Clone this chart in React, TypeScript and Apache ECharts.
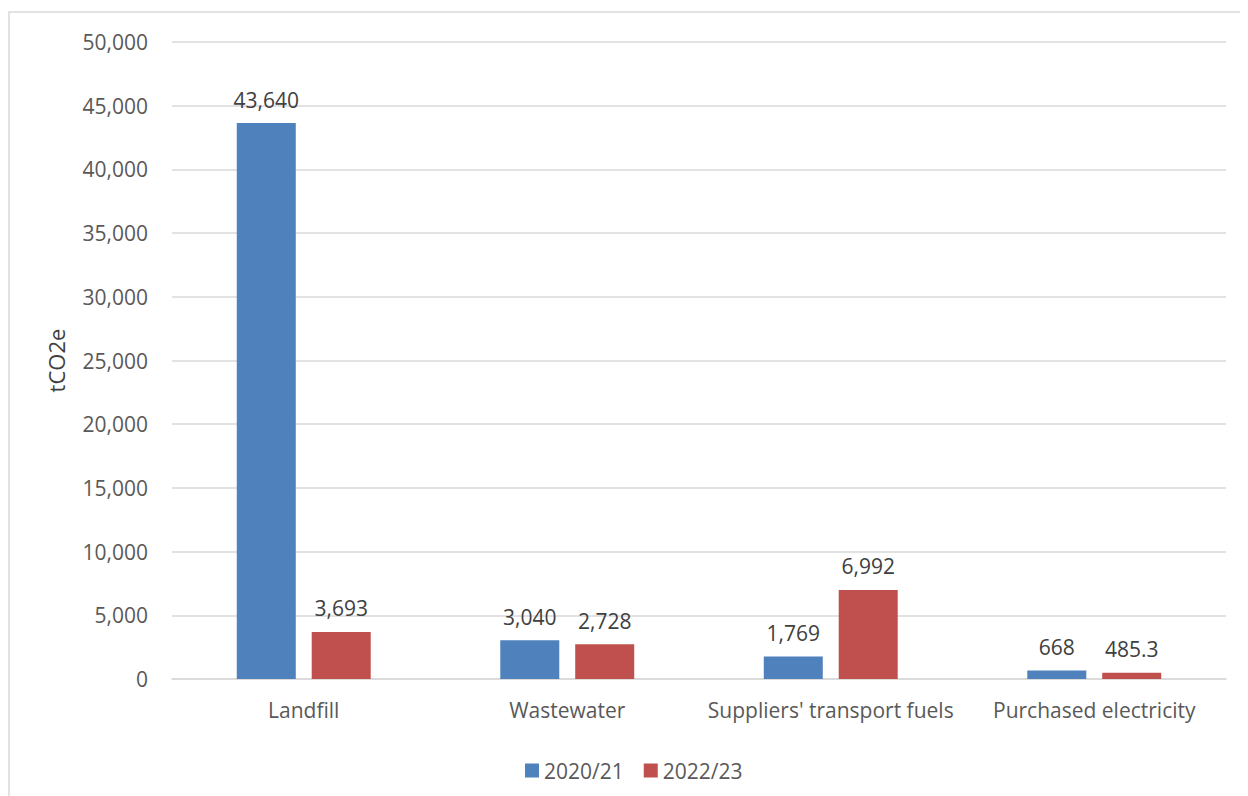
import React, { useEffect, useRef } from "react";
import * as echarts from "echarts";

const categories = ["Landfill", "Wastewater", "Suppliers' transport fuels", "Purchased electricity"];
const series2020 = [43640, 3040, 1769, 668];
const series2022 = [3693, 2728, 6992, 485.3];
const seriesNames = ["2020/21", "2022/23"];
const colors = ["#4F81BD", "#C0504D"];

const FONT = "'Open Sans', 'Noto Sans', sans-serif";
const FS = 21;

export default function App() {
  const ref = useRef<HTMLDivElement>(null);
  useEffect(() => {
    if (!ref.current) return;
    const chart = echarts.init(ref.current, null, { renderer: "svg" });
    const fmt = (v: number) => v.toLocaleString("en-US");
    const label = {
      show: true,
      position: "top",
      distance: 13,
      color: "#404040",
      fontSize: FS,
      fontFamily: FONT,
      formatter: (p: any) => fmt(p.value),
    };
    chart.setOption({
      animation: false,
      textStyle: { fontFamily: FONT },
      graphic: [
        {
          type: "rect",
          shape: { x: 1, y: 4, width: 1260, height: 800 },
          style: { fill: "none", stroke: "#d9d9d9", lineWidth: 1.5 },
          silent: true,
        },
      ],
      grid: { left: 164, right: 22, top: 34, bottom: 117 },
      legend: {
        data: seriesNames,
        left: 512,
        top: 747,
        itemWidth: 14,
        itemHeight: 14,
        itemGap: 20,
        icon: "rect",
        textStyle: { color: "#595959", fontSize: FS, fontFamily: FONT },
      },
      xAxis: {
        type: "category",
        data: categories,
        axisLine: { lineStyle: { color: "#d9d9d9", width: 1.5 } },
        axisTick: { show: false },
        axisLabel: { color: "#595959", fontSize: FS, fontFamily: FONT, margin: 20, interval: 0 },
      },
      yAxis: {
        type: "value",
        min: 0,
        max: 50000,
        interval: 5000,
        name: "tCO2e",
        nameLocation: "middle",
        nameGap: 105,
        nameTextStyle: { color: "#404040", fontSize: 22, fontFamily: FONT },
        axisLine: { show: false },
        axisTick: { show: false },
        splitLine: { lineStyle: { color: "#d9d9d9", width: 1.5 } },
        axisLabel: {
          color: "#595959",
          fontSize: FS,
          fontFamily: FONT,
          margin: 24,
          formatter: (v: number) => fmt(v),
        },
      },
      series: [
        {
          name: seriesNames[0],
          type: "bar",
          data: series2020,
          itemStyle: { color: colors[0] },
          barWidth: 59,
          barGap: "27%",
          label,
        },
        {
          name: seriesNames[1],
          type: "bar",
          data: series2022,
          itemStyle: { color: colors[1] },
          barWidth: 59,
          barGap: "27%",
          label,
        },
      ],
    });
    return () => chart.dispose();
  }, []);
  return <div ref={ref} style={{ width: 1240, height: 788 }} />;
}
